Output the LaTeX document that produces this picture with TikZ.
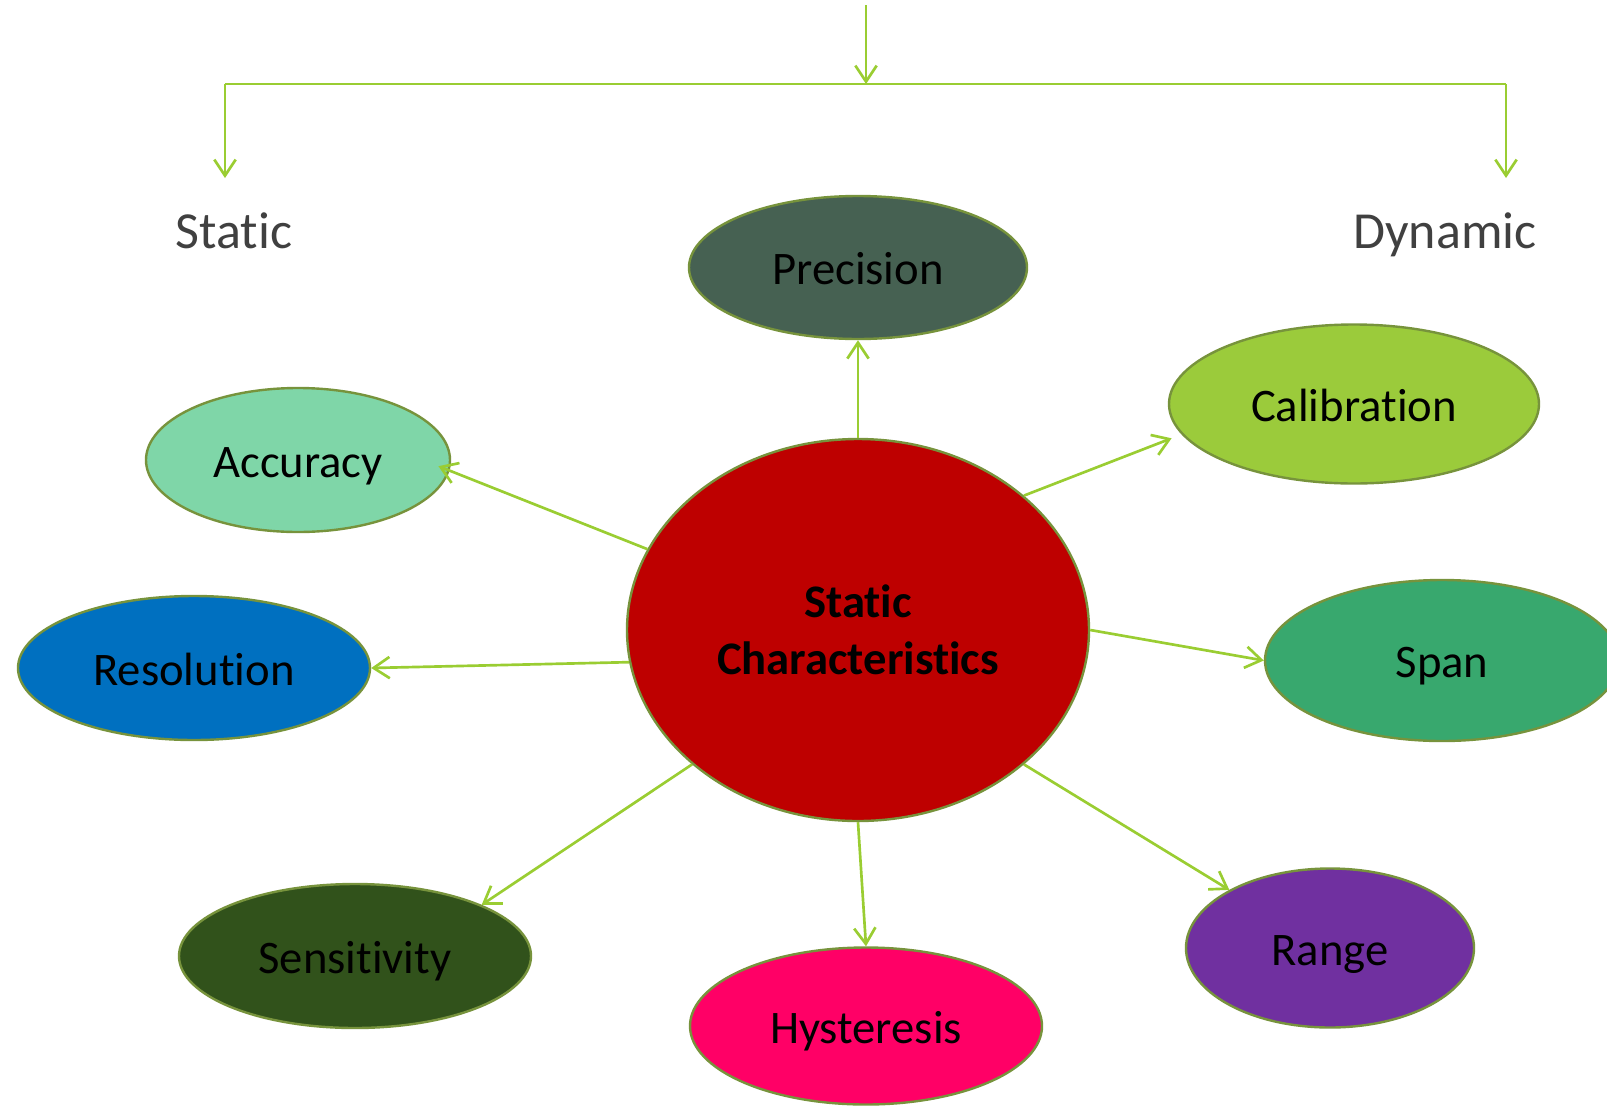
\documentclass[tikz,border=0pt]{standalone}
\usepackage{fontspec}
\setmainfont{Carlito}[Ligatures={NoCommon}]
\usetikzlibrary{shapes.geometric,arrows.meta}
\newcommand{\tibreak}{t\kern0pt i}
\definecolor{lineg}{HTML}{9ACD32}
\definecolor{bord}{HTML}{77933C}
\definecolor{txtgrey}{HTML}{404040}
\definecolor{cPrec}{HTML}{466152}
\definecolor{cCal}{HTML}{9BCB3B}
\definecolor{cAcc}{HTML}{7FD6A8}
\definecolor{cRes}{HTML}{0070C0}
\definecolor{cSpan}{HTML}{38A86E}
\definecolor{cMain}{HTML}{BE0000}
\definecolor{cSens}{HTML}{31521B}
\definecolor{cHyst}{HTML}{FF0066}
\definecolor{cRange}{HTML}{7030A0}
\begin{document}
\begin{tikzpicture}[x=0.75pt,y=-0.75pt,
  conn/.style={draw=lineg, line width=2pt, -{Straight Barb[length=12pt,width=16pt]}},
  plain/.style={draw=lineg, line width=2pt},
  oval/.style={ellipse, draw=bord, line width=1.8pt, inner sep=0pt, text=black,
    text height=26pt, text depth=0pt,
    font=\fontsize{35}{43}\selectfont},
  lab/.style={text=txtgrey, inner sep=0pt, text height=28pt, text depth=0pt,
    font=\fontsize{39}{47}\selectfont}]
\clip (0,0) rectangle (1607,1107);
% top tree
\coordinate (top) at (866,5);
\coordinate (mid) at (866,84);
\coordinate (lft) at (225,84);
\coordinate (rgt) at (1506,84);
\coordinate (ltip) at (225,178);
\coordinate (rtip) at (1506,178);
\draw[plain] (lft) -- (rgt);
\draw[conn] (top) -- (mid);
\draw[conn] (lft) -- (ltip);
\draw[conn] (rgt) -- (rtip);
\node[lab] (static) at (234,230) {Sta\tibreak c};
\node[lab] (dynamic) at (1445,230) {Dynamic};
% ellipses
\node[ellipse, draw=bord, line width=1.8pt, inner sep=0pt, text=black,
  fill=cMain, minimum width=346.5pt, minimum height=286.5pt, align=center,
  font=\fontsize{35}{43}\selectfont\bfseries] (main) at (858,630) {Sta\tibreak c\\Characteris\tibreak cs};
\node[oval, fill=cPrec, minimum width=253.5pt, minimum height=107.25pt] (prec) at (858,267.5) {Precision};
\node[oval, fill=cCal, minimum width=277.5pt, minimum height=119.25pt] (cal) at (1354,404) {Calibra\tibreak on};
\node[oval, fill=cAcc, minimum width=228pt, minimum height=108pt] (acc) at (298,460) {Accuracy};
\node[oval, fill=cRes, minimum width=264pt, minimum height=108pt] (res) at (194,668) {Resolu\tibreak on};
\node[oval, fill=cSpan, minimum width=265.5pt, minimum height=120.75pt] (span) at (1442,660.5) {Span};
\node[oval, fill=cSens, minimum width=264pt, minimum height=108pt] (sens) at (355,956) {Sensi\tibreak vity};
\node[oval, fill=cHyst, minimum width=264pt, minimum height=117.75pt] (hyst) at (866,1026) {Hysteresis};
\node[oval, fill=cRange, minimum width=216pt, minimum height=119.25pt] (range) at (1330,948) {Range};
% connectors
\draw[conn] (main.90) -- (prec.270);
\draw[conn, shorten >=8pt] (main.39.5) -- (cal.190);
\draw[conn, shorten >=-9pt] (main.159.7) -- (acc.-4);
\draw[conn] (main.188.1) -- (res.0);
\draw[conn] (main.-0.2) -- (span.180);
\draw[conn] (main.219.7) -- (sens.22.2);
\draw[conn] (main.270) -- (hyst.90);
\draw[conn] (main.-39.7) -- (range.150.9);
\end{tikzpicture}
\end{document}
